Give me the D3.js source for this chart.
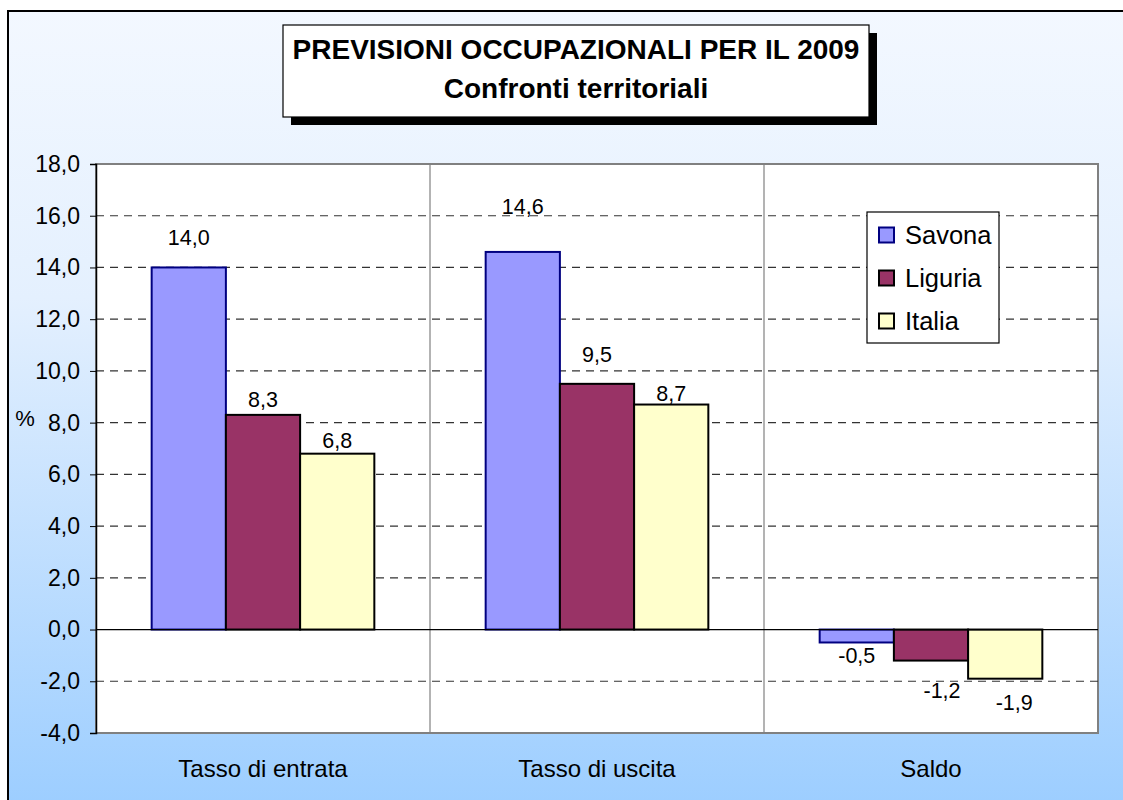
<!DOCTYPE html>
<html>
<head>
<meta charset="utf-8">
<script src="https://cdn.jsdelivr.net/npm/d3@7/dist/d3.min.js"></script>
<style>
  html, body { margin: 0; padding: 0; background: #fff; }
  svg { display: block; font-family: "Liberation Sans", Arial, sans-serif; }
</style>
</head>
<body>
<div id="chart"></div>
<script>
// Previsioni occupazionali 2009 - confronti territoriali
const categories = ["Tasso di entrata", "Tasso di uscita", "Saldo"];
const seriesNames = ["Savona", "Liguria", "Italia"];
const savona = [14.0, 14.6, -0.5];
const liguria = [8.3, 9.5, -1.2];
const italia = [6.8, 8.7, -1.9];
const yTicks = [-4, -2, 0, 2, 4, 6, 8, 10, 12, 14, 16, 18];

// label nudges (px) as placed in the original, per series x category
const labelNudge = [
  [[0, -29], [0, -45], [0, 14]],
  [[0, -15], [0, -29], [11, 30]],
  [[0, -13], [0, -11], [9, 24]]
];

const colors = ["#9999ff", "#993366", "#ffffcc"];
const strokes = ["#000080", "#000000", "#000000"];

const W = 1123, H = 800;
const plot = { left: 96, right: 1098, top: 164, bottom: 733 };

const svg = d3.select("#chart").append("svg")
  .attr("width", W).attr("height", H);

const defs = svg.append("defs");
const grad = defs.append("linearGradient")
  .attr("id", "bg").attr("x1", 0).attr("y1", 0).attr("x2", 0).attr("y2", 1);
grad.append("stop").attr("offset", "0%").attr("stop-color", "#f3f8ff");
grad.append("stop").attr("offset", "35%").attr("stop-color", "#e4f0fe");
grad.append("stop").attr("offset", "100%").attr("stop-color", "#99ccff");

svg.append("rect").attr("width", W).attr("height", H).attr("fill", "#fff");
svg.append("rect")
  .attr("x", 8).attr("y", 11).attr("width", W + 20).attr("height", H + 20)
  .attr("fill", "url(#bg)")
  .attr("stroke", "#000").attr("stroke-width", 2);

// plot area
svg.append("rect")
  .attr("x", plot.left).attr("y", plot.top)
  .attr("width", plot.right - plot.left).attr("height", plot.bottom - plot.top)
  .attr("fill", "#fff").attr("stroke", "#808080").attr("stroke-width", 2);

const y = d3.scaleLinear().domain([-4, 18]).range([plot.bottom, plot.top]);
const x = d3.scaleBand().domain(categories).range([plot.left, plot.right]).padding(0);

const itFmt = d3.formatLocale({ decimal: ",", thousands: ".", grouping: [3], currency: ["", " €"], minus: "-" });
const f1 = itFmt.format(".1f");

// gridlines
svg.append("g").selectAll("line")
  .data(yTicks.filter(d => d !== 0 && d !== 18 && d !== -4))
  .join("line")
  .attr("x1", plot.left).attr("x2", plot.right)
  .attr("y1", d => y(d)).attr("y2", d => y(d))
  .attr("stroke", "#333").attr("stroke-width", 1.2)
  .attr("stroke-dasharray", "8,6");

// category separators
svg.append("g").selectAll("line")
  .data(categories.slice(1))
  .join("line")
  .attr("x1", d => x(d)).attr("x2", d => x(d))
  .attr("y1", plot.top).attr("y2", plot.bottom)
  .attr("stroke", "#808080").attr("stroke-width", 1.2);

// bars
const seriesData = [savona, liguria, italia];
const step = x.bandwidth();
const groupW = step * 3 / 4.5;
const inner = d3.scaleBand().domain(d3.range(3)).range([0, groupW]).padding(0);

const bars = [];
categories.forEach((c, ci) => {
  seriesData.forEach((s, si) => {
    bars.push({ cat: c, ci, si, v: s[ci] });
  });
});

svg.append("g").selectAll("rect")
  .data(bars)
  .join("rect")
  .attr("x", d => x(d.cat) + (step - groupW) / 2 + inner(d.si))
  .attr("width", inner.bandwidth())
  .attr("y", d => y(Math.max(0, d.v)))
  .attr("height", d => Math.abs(y(d.v) - y(0)))
  .attr("fill", d => colors[d.si])
  .attr("stroke", d => strokes[d.si])
  .attr("stroke-width", 2);

// zero line
svg.append("line")
  .attr("x1", plot.left).attr("x2", plot.right)
  .attr("y1", y(0)).attr("y2", y(0))
  .attr("stroke", "#000").attr("stroke-width", 1.2);

// value labels
svg.append("g").selectAll("text")
  .data(bars)
  .join("text")
  .attr("x", d => x(d.cat) + (step - groupW) / 2 + inner(d.si) + inner.bandwidth() / 2 + labelNudge[d.si][d.ci][0])
  .attr("y", d => y(d.v) + labelNudge[d.si][d.ci][1])
  .attr("text-anchor", "middle")
  .attr("dominant-baseline", "central")
  .attr("font-size", 21.5)
  .attr("fill", "#000")
  .text(d => f1(d.v));

// y axis
const yAxis = svg.append("g")
  .attr("transform", `translate(${plot.left},0)`)
  .call(d3.axisLeft(y).tickValues(yTicks).tickFormat(f1).tickSize(6).tickPadding(10));
yAxis.select(".domain").attr("stroke", "#000").attr("stroke-width", 1.5);
yAxis.selectAll(".tick line").attr("stroke", "#000");
yAxis.selectAll(".tick text")
  .attr("font-size", 23).attr("fill", "#000")
  .attr("font-family", "'Liberation Sans', Arial, sans-serif");

svg.append("text")
  .attr("x", 25).attr("y", 418)
  .attr("text-anchor", "middle").attr("dominant-baseline", "central")
  .attr("font-size", 22).text("%");

// category labels
svg.append("g").selectAll("text")
  .data(categories)
  .join("text")
  .attr("x", d => x(d) + step / 2)
  .attr("y", 768)
  .attr("text-anchor", "middle").attr("dominant-baseline", "central")
  .attr("font-size", 24).text(d => d);

// title box
const tb = { x: 283, y: 25, w: 586, h: 92 };
svg.append("rect")
  .attr("x", tb.x + 8).attr("y", tb.y + 8).attr("width", tb.w).attr("height", tb.h)
  .attr("fill", "#000");
svg.append("rect")
  .attr("x", tb.x).attr("y", tb.y).attr("width", tb.w).attr("height", tb.h)
  .attr("fill", "#fff").attr("stroke", "#000").attr("stroke-width", 1.2);
const titleLines = ["PREVISIONI OCCUPAZIONALI PER IL 2009", "Confronti territoriali"];
svg.append("g").selectAll("text")
  .data(titleLines)
  .join("text")
  .attr("x", tb.x + tb.w / 2)
  .attr("y", (d, i) => 49 + i * 39)
  .attr("text-anchor", "middle").attr("dominant-baseline", "central")
  .attr("font-size", 28).attr("font-weight", "bold")
  .text(d => d);

// legend
const lg = { x: 867, y: 212, w: 132, h: 131 };
svg.append("rect")
  .attr("x", lg.x).attr("y", lg.y).attr("width", lg.w).attr("height", lg.h)
  .attr("fill", "#fff").attr("stroke", "#000").attr("stroke-width", 1.2);
const items = svg.append("g").selectAll("g")
  .data(seriesNames)
  .join("g")
  .attr("transform", (d, i) => `translate(${lg.x + 12},${235 + i * 43})`);
items.append("rect")
  .attr("x", 0).attr("y", -7.5).attr("width", 15).attr("height", 15)
  .attr("fill", (d, i) => colors[i]).attr("stroke", (d, i) => strokes[i]).attr("stroke-width", 2);
items.append("text")
  .attr("x", 26).attr("y", 0)
  .attr("dominant-baseline", "central")
  .attr("font-size", 25.5).text(d => d);
</script>
</body>
</html>
